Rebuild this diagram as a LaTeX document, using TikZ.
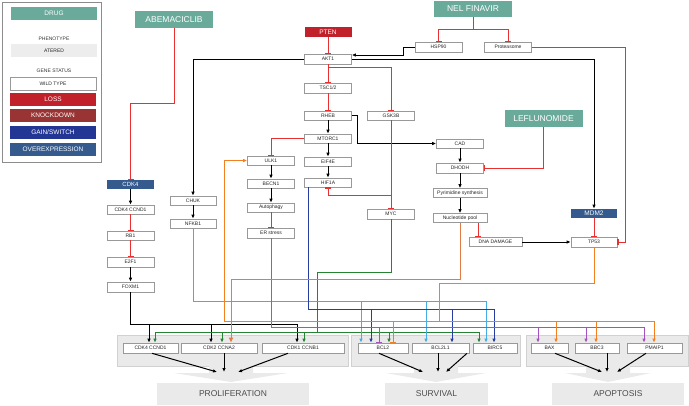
\documentclass[tikz,border=0pt]{standalone}
\usepackage{fontspec}
\setmainfont{Liberation Sans}
\usepackage{xcolor}
\usepackage{tikz}
\usetikzlibrary{shapes,arrows.meta,positioning}

\definecolor{drugteal}{RGB}{106,170,155}
\definecolor{lossred}{RGB}{193,33,42}
\definecolor{kdred}{RGB}{152,52,52}
\definecolor{gainblue}{RGB}{36,54,148}
\definecolor{overblue}{RGB}{52,90,142}
\definecolor{inhred}{RGB}{232,48,48}
\definecolor{lblue}{RGB}{70,172,228}
\definecolor{dblue}{RGB}{38,60,158}
\definecolor{purp}{RGB}{165,82,188}
\definecolor{orng}{RGB}{242,128,32}
\definecolor{lorng}{RGB}{226,124,70}
\definecolor{grn}{RGB}{36,132,50}
\definecolor{grpgray}{RGB}{234,234,234}

\begin{document}
\begin{tikzpicture}[x=1pt,y=-1pt,
    gene/.style={draw=black!40,line width=0.6pt,fill=white,minimum width=47pt,minimum height=9pt,inner sep=0pt,font=\fontsize{5}{5}\selectfont,text=black!85},
    status/.style={gene,draw=none,text=white,font=\fontsize{6.5}{6.5}\selectfont},
    legbox/.style={minimum width=86pt,minimum height=13pt},
    drug/.style={fill=drugteal,text=white,minimum width=78pt,minimum height=17pt,inner sep=0pt,font=\fontsize{8.5}{8.5}\selectfont},
    grp/.style={draw=black!18,fill=grpgray,line width=0.6pt,inner sep=0pt},
    result/.style={fill=grpgray,text=black!70,minimum height=22pt,inner sep=0pt,font=\fontsize{8.5}{8.5}\selectfont},
    act/.style={-{Latex[length=4pt,width=3.5pt]},line width=1pt},
    inh/.style={-{Bar[width=6pt,line width=1.2pt]},line width=1pt,draw=inhred}]
    \useasboundingbox (0,0) rectangle (689,405);

    % legend
    \node[draw=black!45,line width=0.6pt,minimum width=99pt,minimum height=160pt,inner sep=0pt] at (51.5,82) (legend) {};
    \node[drug,legbox,font=\fontsize{6.5}{6.5}\selectfont] at (54,13.5) (lgdrug) {DRUG};
    \node[inner sep=0pt,font=\fontsize{5}{5}\selectfont,text=black!80] at (54,39) (lgpheno) {PHENOTYPE};
    \node[gene,legbox,draw=none,fill=black!7] at (54,50.5) (lgatered) {ATERED};
    \node[inner sep=0pt,font=\fontsize{5}{5}\selectfont,text=black!80] at (54,71) (lgstatus) {GENE STATUS};
    \node[gene,legbox] at (53,83.5) (lgwild) {WILD TYPE};
    \node[status,legbox,fill=lossred] at (53,99.5) (lgloss) {LOSS};
    \node[status,legbox,fill=kdred] at (53,115.5) (lgkd) {KNOCKDOWN};
    \node[status,legbox,fill=gainblue] at (53,132.5) (lggain) {GAIN/SWITCH};
    \node[status,legbox,fill=overblue] at (53,149.5) (lgover) {OVEREXPRESSION};

    % drugs
    \node[drug] at (174,19.5) (abema) {ABEMACICLIB};
    \node[drug,minimum height=16pt] at (473,9) (nelf) {NEL FINAVIR};
    \node[drug] at (543.5,118.5) (lefl) {LEFLUNOMIDE};

    % AKT / mTOR axis
    \node[status,fill=lossred,minimum height=10pt] at (328,32) (pten) {PTEN};
    \node[gene,minimum height=10pt] at (328,59) (akt) {AKT1};
    \node[gene,minimum height=10pt] at (438.5,47) (hsp) {HSP90};
    \node[gene,minimum height=10pt] at (508,47) (prot) {Proteasome};
    \node[gene,minimum height=10pt] at (328,88) (tsc) {TSC1/2};
    \node[gene] at (328,115.5) (rheb) {RHEB};
    \node[gene] at (391,115.5) (gsk) {GSK3B};
    \node[gene] at (328,138.5) (mtor) {MTORC1};
    \node[gene] at (328,161.5) (eif) {EIF4E};
    \node[gene] at (328,182.5) (hif) {HIF1A};
    \node[gene,minimum height=10pt] at (391,214) (myc) {MYC};

    % pyrimidine / p53
    \node[gene] at (460,143.5) (cad) {CAD};
    \node[gene,minimum height=10pt] at (460,168) (dhodh) {DHODH};
    \node[gene,minimum width=54pt] at (460,193) (pyr) {Pyrimidine synthesis};
    \node[gene,minimum width=54pt] at (460,218) (nuc) {Nucleotide pool};
    \node[gene,minimum width=53pt] at (495.5,242) (dna) {DNA DAMAGE};
    \node[status,fill=overblue,minimum width=46pt] at (594,213.5) (mdm) {MDM2};
    \node[gene,minimum width=46pt,minimum height=10pt] at (594,242) (tp) {TP53};

    % autophagy
    \node[gene] at (271,160.5) (ulk) {ULK1};
    \node[gene] at (271,183.5) (becn) {BECN1};
    \node[gene] at (271,207.5) (autoph) {Autophagy};
    \node[gene,minimum height=10pt] at (271,233) (ers) {ER stress};

    % NF-kB and cell cycle
    \node[gene,minimum width=46pt] at (193,200.5) (chuk) {CHUK};
    \node[gene,minimum width=46pt] at (193,223.5) (nfkb) {NFKB1};
    \node[status,fill=overblue,font=\fontsize{6}{6}\selectfont] at (130.5,184.5) (cdkfour) {CDK4};
    \node[gene] at (130.5,209.5) (cdkccnd) {CDK4 CCND1};
    \node[gene] at (130.5,235.5) (rbone) {RB1};
    \node[gene,minimum height=10pt] at (130.5,262) (etwof) {E2F1};
    \node[gene,minimum height=10pt] at (130.5,287) (foxm) {FOXM1};

    % outcome groups
    \node[grp,minimum width=231pt,minimum height=31pt] at (232.5,350.5) (prolifgrp) {};
    \node[grp,minimum width=169pt,minimum height=31pt] at (435.5,350.5) (survgrp) {};
    \node[grp,minimum width=162pt,minimum height=31pt] at (607,350.5) (apopgrp) {};
    \foreach \cx/\hw in {231/57,436/50,608/43}
        \fill[grpgray] (\cx-22,365.4) -- (\cx+22,365.4) -- (\cx+22,373) -- (\cx+\hw,373) -- (\cx,382) -- (\cx-\hw,373) -- (\cx-22,373) -- cycle;

    \node[gene,minimum width=55pt,minimum height=10pt] at (150.5,348) (cdkfourb) {CDK4 CCND1};
    \node[gene,minimum width=76pt,minimum height=10pt] at (219,348) (cdktwob) {CDK2 CCNA2};
    \node[gene,minimum width=82pt,minimum height=10pt] at (303,348) (cdkoneb) {CDK1 CCNB1};
    \node[gene,minimum width=50pt,minimum height=10pt] at (383,348) (bcltwo) {BCL2};
    \node[gene,minimum width=57pt,minimum height=10pt] at (440.5,348) (bclxl) {BCL2L1};
    \node[gene,minimum width=44pt,minimum height=10pt] at (495,348) (birc) {BIRC5};
    \node[gene,minimum width=37pt,minimum height=10pt] at (549.5,348) (bax) {BAX};
    \node[gene,minimum width=44pt,minimum height=10pt] at (597,348) (bbc) {BBC3};
    \node[gene,minimum width=55pt,minimum height=10pt] at (654.5,348) (pmaip) {PMAIP1};

    \node[result,minimum width=152pt] at (233,394) (prolif) {PROLIFERATION};
    \node[result,minimum width=103pt] at (436.5,394) (surv) {SURVIVAL};
    \node[result,minimum width=132pt] at (618,394) (apop) {APOPTOSIS};

    \coordinate (prolifpt) at (228,372);
    \coordinate (survpt) at (437,372);
    \coordinate (apoppt) at (608,372);
    \coordinate (nelfbus) at (473,29);
    \coordinate (greenturn) at (317,272);
    \coordinate (nucbus) at (0,279);
    \coordinate (tpbus) at (439,283);
    \coordinate (lbluebus) at (0,301);
    \coordinate (dbluebus) at (0,309);
    \coordinate (orangebus) at (224,321);
    \coordinate (blackbus) at (0,324);
    \coordinate (purplebus) at (0,327.5);
    \coordinate (greenbus) at (0,332);

    % drug effects
    \draw[inh] (abema.south) |- ([yshift=76pt]cdkfour.north) -- (cdkfour.north);
    \draw[inhred,line width=1pt] (nelf.south) -- (nelfbus);
    \draw[inh] (nelfbus) -| (hsp.north);
    \draw[inh] (nelfbus) -| (prot.north);
    \draw[inh] (lefl.south) |- (dhodh.east);
    \draw[inh] (prot.east) -| ([xshift=8pt]tp.east) -- (tp.east);

    % signalling
    \draw[inh] (pten) -- (akt);
    \draw[act] (hsp.west) -- ++(-11,0) |- ([yshift=4pt]akt.east);
    \draw[act] (akt.west) -| (chuk.north);
    \draw[act] (akt.east) -| (mdm.north);
    \draw[inh] (akt.south) -- (tsc.north);
    \draw[inh] ([yshift=-3.5pt]akt.south) -| (gsk.north);
    \draw[inh] (tsc) -- (rheb);
    \draw[act] (rheb) -- (mtor);
    \draw[act] (rheb.east) -| ([xshift=6pt]rheb.east |- cad.west) -- (cad.west);
    \draw[act] (mtor) -- (eif);
    \draw[act] (eif) -- (hif);
    \draw[inh] (mtor.west) -| (ulk.north);
    \draw[act] (ulk) -- (becn);
    \draw[act] (becn) -- (autoph);
    \draw[inh] (autoph) -- (ers);
    \draw[inh] (gsk) -- (myc);
    \draw[inh] ([yshift=-8pt]gsk.south |- hif.south) -| (hif.south);
    \draw[act] (cad) -- (dhodh);
    \draw[act] (dhodh) -- (pyr);
    \draw[act] (pyr) -- (nuc);
    \draw[inh] ([xshift=18pt]nuc.south) -- ([xshift=18pt]nuc.south |- dna.north);
    \draw[act] (dna) -- (tp);
    \draw[inh] (mdm) -- (tp);
    \draw[act] (cdkfour) -- (cdkccnd);
    \draw[inh] (cdkccnd) -- (rbone);
    \draw[inh] (rbone) -- (etwof);
    \draw[act] (etwof) -- (foxm);
    \draw[act] (chuk) -- (nfkb);

    % FOXM1 -> cyclins
    \draw[act] (foxm.south) |- ([xshift=-6pt]cdkoneb.north |- blackbus) -- ([xshift=-6pt]cdkoneb.north);
    \foreach \tgt/\dx in {cdkfourb/-1.5,cdktwob/-8}
        \draw[act] ([xshift=\dx]\tgt.north |- blackbus) -- ([xshift=\dx]\tgt.north);

    % MYC
    \draw[grn,line width=1pt] (myc.south) |- (greenturn) -- (greenturn |- greenbus);
    \draw[grn,line width=1pt] ([xshift=4.5pt]cdkfourb.north |- greenbus) -- ([xshift=-16pt]birc.north |- greenbus);
    \foreach \tgt/\dx in {cdkfourb/4.5,cdktwob/3,cdkoneb/1,bcltwo/6,birc/-16}
        \draw[act,grn] ([xshift=\dx]\tgt.north |- greenbus) -- ([xshift=\dx]\tgt.north);

    % NFKB1
    \draw[act,lblue] (nfkb.south) |- ([xshift=-9pt]birc.north |- lbluebus) -- ([xshift=-9pt]birc.north);
    \foreach \tgt/\dx in {bcltwo/-22,bclxl/-14.5}
        \draw[act,lblue] ([xshift=\dx]\tgt.north |- lbluebus) -- ([xshift=\dx]\tgt.north);

    % HIF1A
    \draw[act,dblue] ([xshift=-20pt]hif.south) |- ([xshift=-1pt]birc.north |- dbluebus) -- ([xshift=-1pt]birc.north);
    \foreach \tgt/\dx in {bcltwo/-12,bclxl/11.5}
        \draw[act,dblue] ([xshift=\dx]\tgt.north |- dbluebus) -- ([xshift=\dx]\tgt.north);

    % ER stress
    \draw[act,purp] (ers.south) |- ([xshift=-10.5pt]pmaip.north |- purplebus) -- ([xshift=-10.5pt]pmaip.north);
    \draw[inh,purp] ([xshift=-4pt]bcltwo.north |- purplebus) -- ([xshift=-4pt]bcltwo.north);
    \foreach \tgt/\dx in {bax/-11.5,bbc/-11}
        \draw[act,purp] ([xshift=\dx]\tgt.north |- purplebus) -- ([xshift=\dx]\tgt.north);

    % nucleotide pool
    \draw[-{Latex[length=5pt,width=5pt]},line width=1pt,lorng] (nuc.south) |- ([xshift=12pt]cdktwob.north |- nucbus) -- ([xshift=12pt]cdktwob.north);

    % TP53
    \draw[orng,line width=1pt] (tp.south) |- (tpbus) -- (tpbus |- orangebus);
    \draw[act,orng] (tpbus |- orangebus) -- (orangebus) |- (ulk.west);
    \draw[act,orng] (tpbus |- orangebus) -- ([xshift=-0.5pt]pmaip.north |- orangebus) -- ([xshift=-0.5pt]pmaip.north);
    \draw[inh,orng] ([xshift=10pt]bcltwo.north |- orangebus) -- ([xshift=10pt]bcltwo.north);
    \foreach \tgt/\dx in {bax/6.5,bbc/-1}
        \draw[act,orng] ([xshift=\dx]\tgt.north |- orangebus) -- ([xshift=\dx]\tgt.north);

    % outcomes
    \draw[act] ([xshift=1.5pt]cdkfourb.south) -- ([xshift=-11pt]prolifpt);
    \draw[act] ([xshift=5pt]cdktwob.south) -- ([xshift=-4pt]prolifpt);
    \draw[act] ([xshift=-15pt]cdkoneb.south) -- ([xshift=10pt]prolifpt);
    \draw[act] ([xshift=-4pt]bcltwo.south) -- ([xshift=-14pt]survpt);
    \draw[act] ([xshift=-2.5pt]bclxl.south) -- ([xshift=1pt]survpt);
    \draw[act] ([xshift=-28pt]birc.south) -- ([xshift=9pt]survpt);
    \draw[act] ([xshift=5.5pt]bax.south) -- ([xshift=-6pt]apoppt);
    \draw[act] ([xshift=10pt]bbc.south) -- ([xshift=-1pt]apoppt);
    \draw[act] ([xshift=-8.5pt]pmaip.south) -- ([xshift=9pt]apoppt);
\end{tikzpicture}
\end{document}
